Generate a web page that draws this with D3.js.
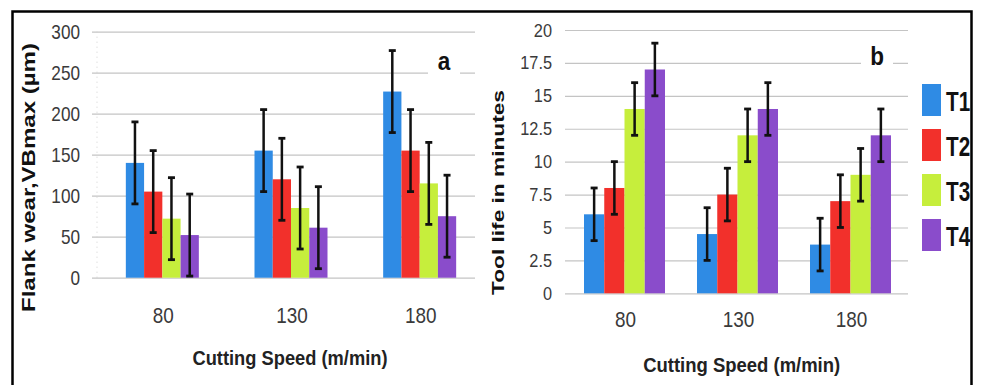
<!DOCTYPE html>
<html>
<head>
<meta charset="utf-8">
<script src="https://cdn.jsdelivr.net/npm/d3@7"></script>
<style>
  html, body { margin: 0; padding: 0; background: #fff; }
  svg { display: block; }
</style>
</head>
<body>
<svg id="chart" width="982" height="385"></svg>
<script>
// Cutting speeds (m/min) and tool series
const speeds = ["80", "130", "180"];
const tools = ["T1", "T2", "T3", "T4"];
const toolColors = ["#2f8be4", "#f2302b", "#c6ee3c", "#8a4ccb"];

// (a) flank wear VBmax (µm), per tool, per speed
const wearT1 = [140, 155, 227];
const wearT2 = [105, 120, 155];
const wearT3 = [72, 85, 115];
const wearT4 = [52, 61, 75];
const wearError = 50;
const wearTicks = [0, 50, 100, 150, 200, 250, 300];

// (b) tool life (minutes), per tool, per speed
const lifeT1 = [6, 4.5, 3.7];
const lifeT2 = [8, 7.5, 7];
const lifeT3 = [14, 12, 9];
const lifeT4 = [17, 14, 12];
const lifeError = 2;
const lifeTicks = [0, 2.5, 5, 7.5, 10, 12.5, 15, 17.5, 20];

const svg = d3.select("#chart");
const font = "'Liberation Sans', Arial, sans-serif";

// outer frame (open at the bottom)
svg.append("path")
  .attr("d", "M12.5,385 V11.5 H971.5 V385")
  .attr("fill", "none").attr("stroke", "#000").attr("stroke-width", 2.5);

function panel(opt) {
  const g = svg.append("g");
  const y = d3.scaleLinear().domain(opt.yDomain).range(opt.yRange);
  const x0 = d3.scaleBand().domain(speeds).range(opt.xRange);
  const x1 = d3.scaleBand().domain(tools).range([0, opt.groupWidth]);

  // value axis with gridlines
  const axis = d3.axisLeft(y)
    .tickValues(opt.ticks)
    .tickFormat(opt.format)
    .tickSize(-(opt.gridEnd - opt.gridStart))
    .tickPadding(opt.tickPadding);
  const ax = g.append("g")
    .attr("transform", `translate(${opt.gridStart},0)`)
    .call(axis);
  ax.select(".domain").remove();
  ax.selectAll(".tick line").attr("stroke", "#c4c4c4").attr("stroke-width", 1.2);
  const sx = 0.86; // condensed digits
  ax.selectAll(".tick text")
    .attr("fill", "#3a3a3a")
    .attr("x", -opt.tickPadding / sx)
    .attr("transform", `scale(${sx},1)`)
    .style("font-family", font)
    .style("font-size", opt.tickSize + "px");

  if (opt.dottedAxis) {
    g.append("line")
      .attr("x1", opt.xRange[0] - 1).attr("x2", opt.xRange[0] - 1)
      .attr("y1", y(opt.yDomain[1])).attr("y2", y(0))
      .attr("stroke", "#d0d0d0").attr("stroke-dasharray", "1,4");
  }

  // panel letter on a white patch over the gridline
  g.append("rect")
    .attr("x", opt.letterX - 16).attr("y", opt.letterY - 22)
    .attr("width", 32).attr("height", 28).attr("fill", "#fff");
  g.append("text")
    .attr("transform", `translate(${opt.letterX},${opt.letterY}) scale(0.9,1)`)
    .attr("text-anchor", "middle")
    .style("font-family", font).style("font-weight", "bold")
    .style("font-size", "25px").attr("fill", "#111")
    .text(opt.letter);

  // bars
  const rows = speeds.map((s, i) => ({
    speed: s,
    vals: opt.series.map((arr, k) => ({ tool: tools[k], color: toolColors[k], v: arr[i] }))
  }));
  const groups = g.selectAll("g.grp").data(rows).join("g")
    .attr("class", "grp")
    .attr("transform", d => `translate(${x0(d.speed) + (x0.bandwidth() - opt.groupWidth) / 2},0)`);
  groups.selectAll("rect").data(d => d.vals).join("rect")
    .attr("x", d => x1(d.tool))
    .attr("width", x1.bandwidth())
    .attr("y", d => y(d.v))
    .attr("height", d => y(0) - y(d.v))
    .attr("fill", d => d.color);

  // error bars
  const eb = groups.selectAll("g.err").data(d => d.vals).join("g").attr("class", "err")
    .attr("transform", d => `translate(${x1(d.tool) + x1.bandwidth() / 2},0)`);
  eb.append("line")
    .attr("y1", d => y(d.v + opt.err)).attr("y2", d => y(Math.max(0, d.v - opt.err)))
    .attr("stroke", "#111").attr("stroke-width", 2.5);
  eb.append("line")
    .attr("x1", -3.5).attr("x2", 3.5)
    .attr("y1", d => y(d.v + opt.err)).attr("y2", d => y(d.v + opt.err))
    .attr("stroke", "#111").attr("stroke-width", 2.8);
  eb.append("line")
    .attr("x1", -3.5).attr("x2", 3.5)
    .attr("y1", d => y(Math.max(0, d.v - opt.err))).attr("y2", d => y(Math.max(0, d.v - opt.err)))
    .attr("stroke", "#111").attr("stroke-width", 2.8);

  // category labels
  g.selectAll("text.cat").data(speeds).join("text")
    .attr("class", "cat")
    .attr("transform", d => `translate(${x0(d) + x0.bandwidth() / 2 + 1},${opt.catY}) scale(0.86,1)`)
    .attr("text-anchor", "middle")
    .attr("fill", "#3a3a3a")
    .style("font-family", font).style("font-size", "22px")
    .text(d => d);

  // axis titles
  g.append("text")
    .attr("x", opt.xTitle[0]).attr("y", opt.xTitle[1])
    .attr("text-anchor", "middle")
    .attr("textLength", opt.xTitleLen).attr("lengthAdjust", "spacingAndGlyphs")
    .attr("fill", "#222")
    .style("font-family", font).style("font-size", "21px").style("font-weight", "bold")
    .text("Cutting Speed (m/min)");
  g.append("text")
    .attr("transform", `translate(${opt.yTitle[0]},${opt.yTitle[1]}) rotate(-90)`)
    .attr("text-anchor", "middle").attr("dy", "0.36em")
    .attr("textLength", opt.yTitleLen).attr("lengthAdjust", "spacingAndGlyphs")
    .attr("fill", "#111")
    .style("font-family", font).style("font-size", opt.yTitleSize + "px").style("font-weight", "bold")
    .text(opt.yTitleText);
}

panel({
  yDomain: [0, 300], yRange: [277.7, 31.7], ticks: wearTicks, format: d3.format("d"),
  xRange: [98, 484], groupWidth: 73, gridStart: 92, gridEnd: 475, tickPadding: 12, tickSize: 20,
  series: [wearT1, wearT2, wearT3, wearT4], err: wearError,
  letter: "a", letterX: 444, letterY: 70, dottedAxis: true,
  catY: 323, xTitle: [290, 365], xTitleLen: 195,
  yTitle: [28, 177.5], yTitleLen: 269, yTitleSize: 19, yTitleText: "Flank wear,VBmax (µm)"
});

panel({
  yDomain: [0, 20], yRange: [293.3, 30], ticks: lifeTicks, format: d => String(d),
  xRange: [568, 907], groupWidth: 81, gridStart: 565, gridEnd: 908, tickPadding: 13, tickSize: 19,
  series: [lifeT1, lifeT2, lifeT3, lifeT4], err: lifeError,
  letter: "b", letterX: 877, letterY: 65, dottedAxis: false,
  catY: 327, xTitle: [741.7, 372], xTitleLen: 197,
  yTitle: [497.5, 192.5], yTitleLen: 205, yTitleSize: 17, yTitleText: "Tool life  in minutes"
});

// legend
const legend = svg.append("g").attr("transform", "translate(922,84)");
const li = legend.selectAll("g").data(tools).join("g")
  .attr("transform", (d, i) => `translate(0,${i * 45})`);
li.append("rect")
  .attr("width", 19).attr("height", 32)
  .attr("fill", (d, i) => toolColors[i]);
li.append("text")
  .attr("transform", "translate(24,27) scale(0.74,1)")
  .attr("fill", "#111")
  .style("font-family", font).style("font-size", "28px").style("font-weight", "bold")
  .text(d => d);
</script>
</body>
</html>
